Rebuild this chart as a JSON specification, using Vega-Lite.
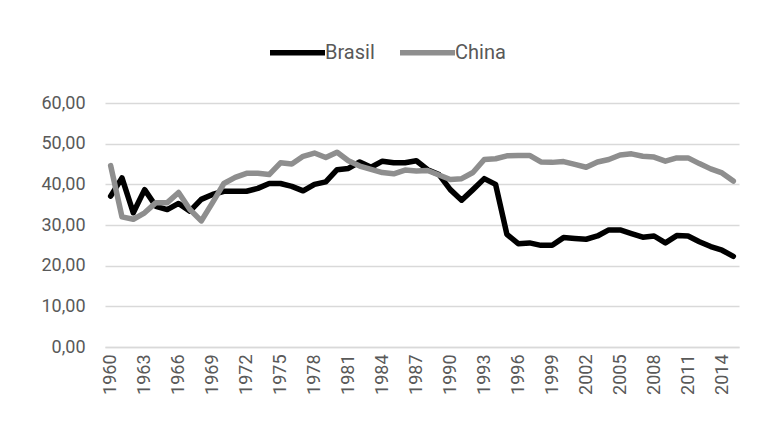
{
  "$schema": "https://vega.github.io/schema/vega-lite/v6.json",
  "width": 634,
  "height": 244,
  "autosize": {"type": "none"},
  "padding": {"left": 105, "top": 103, "right": 22, "bottom": 78},
  "background": "#ffffff",
  "config": {
    "view": {"stroke": null},
    "font": "Roboto"
  },
  "data": {
    "values": [
      {"year": 1960, "country": "Brasil", "value": 37.1},
      {"year": 1961, "country": "Brasil", "value": 41.6},
      {"year": 1962, "country": "Brasil", "value": 33.0},
      {"year": 1963, "country": "Brasil", "value": 38.7},
      {"year": 1964, "country": "Brasil", "value": 34.6},
      {"year": 1965, "country": "Brasil", "value": 33.8},
      {"year": 1966, "country": "Brasil", "value": 35.3},
      {"year": 1967, "country": "Brasil", "value": 33.4},
      {"year": 1968, "country": "Brasil", "value": 36.3},
      {"year": 1969, "country": "Brasil", "value": 37.5},
      {"year": 1970, "country": "Brasil", "value": 38.3},
      {"year": 1971, "country": "Brasil", "value": 38.3},
      {"year": 1972, "country": "Brasil", "value": 38.3},
      {"year": 1973, "country": "Brasil", "value": 39.0},
      {"year": 1974, "country": "Brasil", "value": 40.2},
      {"year": 1975, "country": "Brasil", "value": 40.2},
      {"year": 1976, "country": "Brasil", "value": 39.5},
      {"year": 1977, "country": "Brasil", "value": 38.4},
      {"year": 1978, "country": "Brasil", "value": 40.0},
      {"year": 1979, "country": "Brasil", "value": 40.6},
      {"year": 1980, "country": "Brasil", "value": 43.6},
      {"year": 1981, "country": "Brasil", "value": 43.9},
      {"year": 1982, "country": "Brasil", "value": 45.5},
      {"year": 1983, "country": "Brasil", "value": 44.2},
      {"year": 1984, "country": "Brasil", "value": 45.7},
      {"year": 1985, "country": "Brasil", "value": 45.3},
      {"year": 1986, "country": "Brasil", "value": 45.3},
      {"year": 1987, "country": "Brasil", "value": 45.8},
      {"year": 1988, "country": "Brasil", "value": 43.6},
      {"year": 1989, "country": "Brasil", "value": 42.4},
      {"year": 1990, "country": "Brasil", "value": 38.7},
      {"year": 1991, "country": "Brasil", "value": 36.1},
      {"year": 1992, "country": "Brasil", "value": 38.7},
      {"year": 1993, "country": "Brasil", "value": 41.4},
      {"year": 1994, "country": "Brasil", "value": 40.0},
      {"year": 1995, "country": "Brasil", "value": 27.7},
      {"year": 1996, "country": "Brasil", "value": 25.4},
      {"year": 1997, "country": "Brasil", "value": 25.6},
      {"year": 1998, "country": "Brasil", "value": 25.0},
      {"year": 1999, "country": "Brasil", "value": 25.0},
      {"year": 2000, "country": "Brasil", "value": 26.9},
      {"year": 2001, "country": "Brasil", "value": 26.7},
      {"year": 2002, "country": "Brasil", "value": 26.5},
      {"year": 2003, "country": "Brasil", "value": 27.3},
      {"year": 2004, "country": "Brasil", "value": 28.8},
      {"year": 2005, "country": "Brasil", "value": 28.8},
      {"year": 2006, "country": "Brasil", "value": 27.9},
      {"year": 2007, "country": "Brasil", "value": 27.0},
      {"year": 2008, "country": "Brasil", "value": 27.3},
      {"year": 2009, "country": "Brasil", "value": 25.6},
      {"year": 2010, "country": "Brasil", "value": 27.4},
      {"year": 2011, "country": "Brasil", "value": 27.3},
      {"year": 2012, "country": "Brasil", "value": 25.9},
      {"year": 2013, "country": "Brasil", "value": 24.7},
      {"year": 2014, "country": "Brasil", "value": 23.8},
      {"year": 2015, "country": "Brasil", "value": 22.3},
      {"year": 1960, "country": "China", "value": 44.6},
      {"year": 1961, "country": "China", "value": 32.0},
      {"year": 1962, "country": "China", "value": 31.4},
      {"year": 1963, "country": "China", "value": 33.0},
      {"year": 1964, "country": "China", "value": 35.5},
      {"year": 1965, "country": "China", "value": 35.5},
      {"year": 1966, "country": "China", "value": 38.0},
      {"year": 1967, "country": "China", "value": 33.8},
      {"year": 1968, "country": "China", "value": 31.0},
      {"year": 1969, "country": "China", "value": 35.5},
      {"year": 1970, "country": "China", "value": 40.2},
      {"year": 1971, "country": "China", "value": 41.7},
      {"year": 1972, "country": "China", "value": 42.7},
      {"year": 1973, "country": "China", "value": 42.7},
      {"year": 1974, "country": "China", "value": 42.4},
      {"year": 1975, "country": "China", "value": 45.3},
      {"year": 1976, "country": "China", "value": 45.0},
      {"year": 1977, "country": "China", "value": 46.9},
      {"year": 1978, "country": "China", "value": 47.7},
      {"year": 1979, "country": "China", "value": 46.6},
      {"year": 1980, "country": "China", "value": 47.9},
      {"year": 1981, "country": "China", "value": 45.8},
      {"year": 1982, "country": "China", "value": 44.5},
      {"year": 1983, "country": "China", "value": 43.7},
      {"year": 1984, "country": "China", "value": 42.9},
      {"year": 1985, "country": "China", "value": 42.6},
      {"year": 1986, "country": "China", "value": 43.5},
      {"year": 1987, "country": "China", "value": 43.3},
      {"year": 1988, "country": "China", "value": 43.4},
      {"year": 1989, "country": "China", "value": 42.3},
      {"year": 1990, "country": "China", "value": 41.2},
      {"year": 1991, "country": "China", "value": 41.4},
      {"year": 1992, "country": "China", "value": 42.9},
      {"year": 1993, "country": "China", "value": 46.1},
      {"year": 1994, "country": "China", "value": 46.3},
      {"year": 1995, "country": "China", "value": 47.0},
      {"year": 1996, "country": "China", "value": 47.1},
      {"year": 1997, "country": "China", "value": 47.1},
      {"year": 1998, "country": "China", "value": 45.5},
      {"year": 1999, "country": "China", "value": 45.4},
      {"year": 2000, "country": "China", "value": 45.6},
      {"year": 2001, "country": "China", "value": 44.9},
      {"year": 2002, "country": "China", "value": 44.2},
      {"year": 2003, "country": "China", "value": 45.5},
      {"year": 2004, "country": "China", "value": 46.1},
      {"year": 2005, "country": "China", "value": 47.2},
      {"year": 2006, "country": "China", "value": 47.5},
      {"year": 2007, "country": "China", "value": 46.9},
      {"year": 2008, "country": "China", "value": 46.7},
      {"year": 2009, "country": "China", "value": 45.7},
      {"year": 2010, "country": "China", "value": 46.5},
      {"year": 2011, "country": "China", "value": 46.5},
      {"year": 2012, "country": "China", "value": 45.1},
      {"year": 2013, "country": "China", "value": 43.8},
      {"year": 2014, "country": "China", "value": 42.8},
      {"year": 2015, "country": "China", "value": 40.8}
    ]
  },
  "mark": {"type": "line", "strokeWidth": 5.5, "strokeJoin": "round", "strokeCap": "round"},
  "encoding": {
    "x": {
      "field": "year",
      "type": "ordinal",
      "scale": {"type": "point", "padding": 0.5},
      "axis": {
        "title": null,
        "values": [1960, 1963, 1966, 1969, 1972, 1975, 1978, 1981, 1984, 1987, 1990, 1993, 1996, 1999, 2002, 2005, 2008, 2011, 2014],
        "labelAngle": -90,
        "labelFont": "Roboto",
        "labelFontSize": 18,
        "labelColor": "#595959",
        "labelPadding": 7,
        "ticks": false,
        "domainColor": "#d9d9d9",
        "domainWidth": 1.5
      }
    },
    "y": {
      "field": "value",
      "type": "quantitative",
      "scale": {"domain": [0, 60], "nice": false},
      "axis": {
        "title": null,
        "values": [0, 10, 20, 30, 40, 50, 60],
        "labelExpr": "replace(format(datum.value, '.2f'), '.', ',')",
        "labelFont": "Roboto",
        "labelFontSize": 18,
        "labelColor": "#595959",
        "labelPadding": 20,
        "ticks": false,
        "domain": false,
        "gridColor": "#d9d9d9",
        "gridWidth": 1.5
      }
    },
    "color": {
      "field": "country",
      "type": "nominal",
      "scale": {"domain": ["Brasil", "China"], "range": ["#000000", "#8e8e8e"]},
      "legend": {
        "title": null,
        "orient": "none",
        "direction": "horizontal",
        "legendX": 162,
        "legendY": -81,
        "padding": 0,
        "symbolType": "stroke",
        "symbolSize": 3025,
        "symbolStrokeWidth": 5.5,
        "labelFont": "Roboto",
        "labelFontSize": 20,
        "labelColor": "#595959",
        "labelOffset": -3,
        "columnPadding": 14
      }
    }
  }
}
